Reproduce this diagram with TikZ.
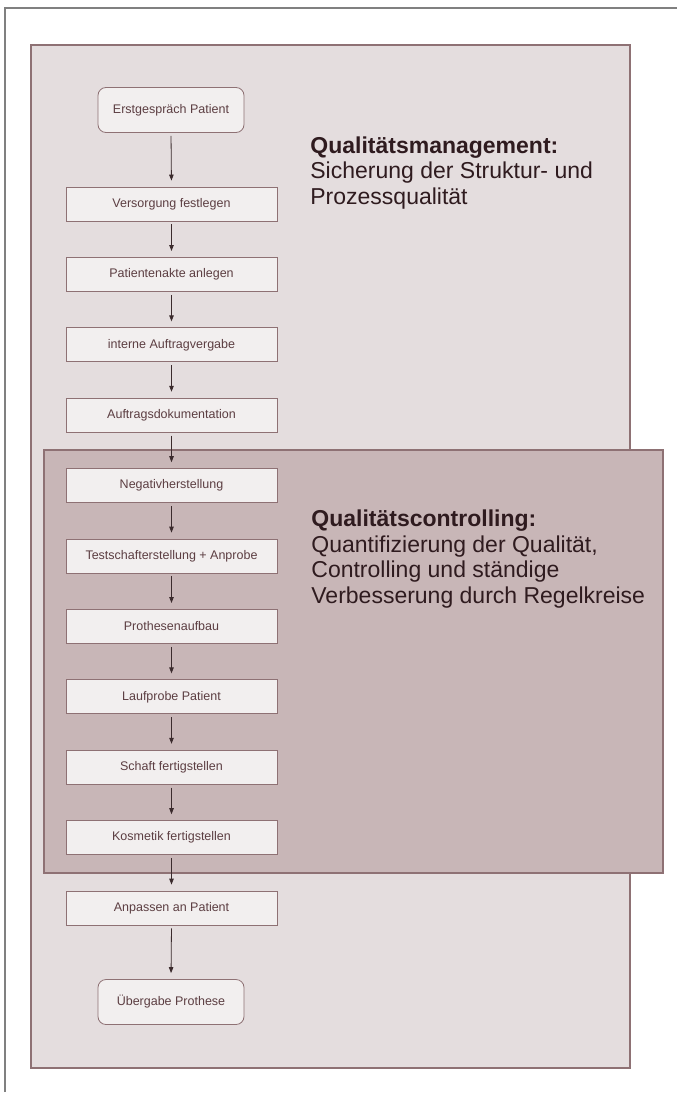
\documentclass[tikz,border=0pt]{standalone}
\usepackage{fontspec}
\setmainfont{Liberation Sans}
\usetikzlibrary{arrows.meta}

\definecolor{rahmen}{HTML}{808080}
\definecolor{qmfill}{HTML}{E4DDDE}
\definecolor{qcfill}{HTML}{C8B6B7}
\definecolor{qmlinie}{HTML}{8E7174}
\definecolor{boxfill}{HTML}{F2EFEF}
\definecolor{boxtext}{HTML}{5C3E42}
\definecolor{titeltext}{HTML}{2F1B1F}
\definecolor{pfeilfarbe}{HTML}{3B2B2D}

\begin{document}
\begin{tikzpicture}[
		x=1pt, y=-1pt,
		every path/.style={line width=0.8pt},
		schritt/.style={draw=qmlinie, fill=boxfill, text=boxtext, inner sep=0pt,
			minimum width=211pt, minimum height=34pt,
			font=\fontsize{12.5}{15}\selectfont},
		endpunkt/.style={schritt, rounded corners=8pt,
			minimum width=146pt, minimum height=45pt},
		pfeil/.style={-{Triangle[length=6pt,width=4.5pt]}, draw=pfeilfarbe,
			shorten <=3pt, shorten >=6pt},
		titel/.style={anchor=base west, align=left, inner sep=0pt, text=titeltext,
			font=\fontsize{23}{25.5}\selectfont}
	]
	\fill[white] (0,0) rectangle (677,1097);
	\useasboundingbox (0,0) rectangle (677,1097);
	\draw[rahmen, line width=1.5pt] (5,1092) -- (5,8) -- (677,8);

	% Qualitaetsmanagement
	\draw[draw=qmlinie, fill=qmfill, line width=1.2pt] (31,45) rectangle (630,1068);
	% Qualitaetscontrolling
	\draw[draw=qmlinie, fill=qcfill, line width=1.2pt] (44,450) rectangle (663,873);

	\node[endpunkt] (erst) at (171,110) {Erstgespräch Patient};
	\node[schritt] (vers) at (171.5,204) {Versorgung festlegen};
	\node[schritt] (akte) at (171.5,274.4) {Patientenakte anlegen};
	\node[schritt] (intern) at (171.5,344.8) {interne Auftragvergabe};
	\node[schritt] (doku) at (171.5,415.2) {Auftragsdokumentation};
	\node[schritt] (neg) at (171.5,485.6) {Negativherstellung};
	\node[schritt] (test) at (171.5,556) {Testschafterstellung + Anprobe};
	\node[schritt] (aufbau) at (171.5,626.4) {Prothesenaufbau};
	\node[schritt] (lauf) at (171.5,696.8) {Laufprobe Patient};
	\node[schritt] (schaft) at (171.5,767.2) {Schaft fertigstellen};
	\node[schritt] (kosm) at (171.5,837.6) {Kosmetik fertigstellen};
	\node[schritt] (anp) at (171.5,908) {Anpassen an Patient};
	\node[endpunkt] (ueber) at (171,1002) {Übergabe Prothese};

	\foreach \a/\b in {erst/vers, vers/akte, akte/intern, intern/doku, doku/neg,
		neg/test, test/aufbau, aufbau/lauf, lauf/schaft, schaft/kosm, kosm/anp, anp/ueber}
		\draw[pfeil] (\a.south) -- (\b.north);

	% base = Grundlinie der letzten Zeile
	\node[titel] (qm) at (310,204) {\textbf{Qualitätsmanagement:}\\Sicherung der Struktur- und\\Prozessqualität};
	\node[titel] (qc) at (311,603) {\textbf{Qualitätscontrolling:}\\Quantifizierung der Qualität,\\Controlling und ständige\\Verbesserung durch Regelkreise};
\end{tikzpicture}
\end{document}
